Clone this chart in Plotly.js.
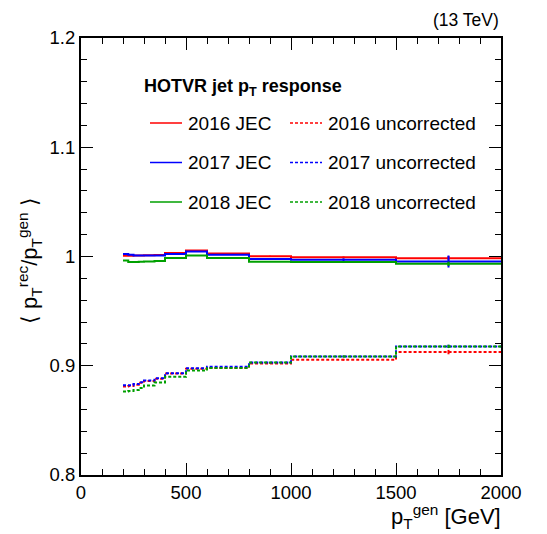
<!DOCTYPE html>
<html>
<head>
<meta charset="utf-8">
<script src="https://cdn.plot.ly/plotly-3.0.1.min.js"></script>
<style>html,body{margin:0;padding:0;background:#fff;}#chart{width:547px;height:534px;}</style>
</head>
<body>
<div id="chart"></div>
<script>
// ---- data ----
const binEdges = [200, 225, 250, 275, 300, 350, 400, 500, 600, 800, 1000, 1500, 2000];

const jec2016 = [1.0008, 1.0006, 1.0010, 1.0010, 1.0011, 1.0014, 1.0033, 1.0054, 1.0028, 1.0003, 0.9992, 0.9985];
const jec2017 = [1.0024, 1.0015, 1.0010, 1.0010, 1.0010, 1.0010, 1.0024, 1.0045, 1.0016, 0.9978, 0.9971, 0.9954];
const jec2018 = [0.9964, 0.9950, 0.9950, 0.9951, 0.9955, 0.9958, 0.9987, 1.0010, 0.9986, 0.9953, 0.9950, 0.9933];

const unc2016 = [0.8810, 0.8815, 0.8825, 0.8845, 0.8860, 0.8882, 0.8928, 0.8972, 0.8980, 0.9020, 0.9055, 0.9125];
const unc2017 = [0.8822, 0.8822, 0.8832, 0.8848, 0.8865, 0.8886, 0.8932, 0.8977, 0.8990, 0.9030, 0.9085, 0.9177];
const unc2018 = [0.8765, 0.8770, 0.8778, 0.8796, 0.8820, 0.8847, 0.8900, 0.8957, 0.8980, 0.9030, 0.9085, 0.9177];

const errJec2016 = [0, 0, 0, 0, 0, 0, 0, 0, 0, 0.0003, 0.0008, 0.0020];
const errJec2017 = [0, 0, 0, 0, 0, 0, 0, 0, 0, 0.0003, 0.0012, 0.0055];
const errJec2018 = [0, 0, 0, 0, 0, 0, 0, 0, 0, 0.0003, 0.0008, 0.0020];
const errUnc2016 = [0, 0, 0, 0, 0, 0, 0, 0, 0, 0.0003, 0.0008, 0.0020];
const errUnc2017 = [0, 0, 0, 0, 0, 0, 0, 0, 0, 0.0003, 0.0008, 0.0015];
const errUnc2018 = [0, 0, 0, 0, 0, 0, 0, 0, 0, 0.0003, 0.0008, 0.0015];

const seriesNames = ["2016 JEC", "2017 JEC", "2018 JEC", "2016 uncorrected", "2017 uncorrected", "2018 uncorrected"];
const headerText = "HOTVR jet p<sub>T</sub> response";
const energyText = "(13 TeV)";
const xTitleText = "p<sub>T</sub><sup>gen</sup> [GeV]";
const yTitleText = "\u27E8 p<sub>T</sub><sup>rec</sup>/p<sub>T</sub><sup>gen</sup> \u27E9";

// ---- styles ----
const RED = "#ff0000", BLUE = "#0000ff", GREEN = "#00a000";
const FONT = "Liberation Sans, Arial, Helvetica, sans-serif";
const DOT = "3px,2px";

const centers = binEdges.slice(0, -1).map((e, i) => (e + binEdges[i + 1]) / 2);

function stepTrace(vals, color, dash) {
  return {
    type: "scatter", mode: "lines",
    x: binEdges, y: vals.concat([vals[vals.length - 1]]),
    line: {shape: "hv", color: color, width: 2, dash: dash},
    hoverinfo: "skip", showlegend: false
  };
}
function errTrace(vals, errs, color) {
  return {
    type: "scatter", mode: "markers",
    x: centers, y: vals,
    marker: {size: 0.1, color: color},
    error_y: {type: "data", array: errs, visible: true, width: 0, thickness: 2, color: color},
    hoverinfo: "skip", showlegend: false
  };
}

const data = [
  stepTrace(unc2016, RED, DOT), errTrace(unc2016, errUnc2016, RED),
  stepTrace(unc2017, BLUE, DOT), errTrace(unc2017, errUnc2017, BLUE),
  stepTrace(unc2018, GREEN, DOT), errTrace(unc2018, errUnc2018, GREEN),
  stepTrace(jec2016, RED, "solid"), errTrace(jec2016, errJec2016, RED),
  stepTrace(jec2017, BLUE, "solid"), errTrace(jec2017, errJec2017, BLUE),
  stepTrace(jec2018, GREEN, "solid"), errTrace(jec2018, errJec2018, GREEN)
];

// ---- manual legend (ROOT-like) ----
const L = 81, R = 501, T = 38, B = 475;
const px = v => (v - L) / (R - L);
const py = v => (B - v) / (B - T);
const rowY = [123, 162.5, 202];
const legendColors = [RED, BLUE, GREEN];
const shapes = [];
const annotations = [];
rowY.forEach((yy, i) => {
  shapes.push({type: "line", xref: "paper", yref: "paper", x0: px(150), x1: px(182), y0: py(yy), y1: py(yy),
               line: {color: legendColors[i], width: 1.5}});
  shapes.push({type: "line", xref: "paper", yref: "paper", x0: px(290), x1: px(322), y0: py(yy), y1: py(yy),
               line: {color: legendColors[i], width: 1.5, dash: DOT}});
  annotations.push({xref: "paper", yref: "paper", x: px(186), y: py(yy), xanchor: "left", yanchor: "middle",
                    text: seriesNames[i], showarrow: false, font: {family: FONT, size: 19, color: "#000"}});
  annotations.push({xref: "paper", yref: "paper", x: px(326), y: py(yy), xanchor: "left", yanchor: "middle",
                    text: seriesNames[i + 3], showarrow: false, font: {family: FONT, size: 19, color: "#000"}});
});
annotations.push({xref: "paper", yref: "paper", x: px(142), y: py(88), xanchor: "left", yanchor: "middle",
                  text: "<b>" + headerText + "</b>", showarrow: false, font: {family: FONT, size: 18, color: "#000"}});
annotations.push({xref: "paper", yref: "paper", x: 1, y: py(20), xanchor: "right", yanchor: "middle",
                  text: energyText, showarrow: false, font: {family: FONT, size: 17.5, color: "#000"}});
annotations.push({xref: "paper", yref: "paper", x: 1, y: py(516), xanchor: "right", yanchor: "middle", xshift: 2,
                  text: xTitleText, showarrow: false, font: {family: FONT, size: 22, color: "#000"}});
annotations.push({xref: "paper", yref: "paper", x: px(29), y: py(261), xanchor: "center", yanchor: "middle",
                  textangle: -90, text: yTitleText, showarrow: false, font: {family: FONT, size: 22, color: "#000"}});

const axisCommon = {
  showgrid: false, zeroline: false, showline: true, linecolor: "#000", linewidth: 2,
  mirror: "ticks", ticks: "inside", ticklen: 12, tickwidth: 1, tickcolor: "#000",
  tickfont: {family: FONT, size: 18.5, color: "#000"}
};

const layout = {
  width: 547, height: 534,
  margin: {l: L, r: 547 - R, t: T, b: 534 - B, pad: 0},
  paper_bgcolor: "#fff", plot_bgcolor: "#fff",
  showlegend: false,
  xaxis: Object.assign({}, axisCommon, {
    range: [0, 2000], dtick: 500, tick0: 0,
    minor: {dtick: 100, tick0: 0, ticks: "inside", ticklen: 6, tickwidth: 1, tickcolor: "#000", showgrid: false}
  }),
  yaxis: Object.assign({}, axisCommon, {
    range: [0.8, 1.2], dtick: 0.1, tick0: 0.8,
    minor: {dtick: 0.02, tick0: 0.8, ticks: "inside", ticklen: 6, tickwidth: 1, tickcolor: "#000", showgrid: false}
  }),
  shapes: shapes,
  annotations: annotations
};

Plotly.newPlot("chart", data, layout, {displayModeBar: false, staticPlot: true});
</script>
</body>
</html>
